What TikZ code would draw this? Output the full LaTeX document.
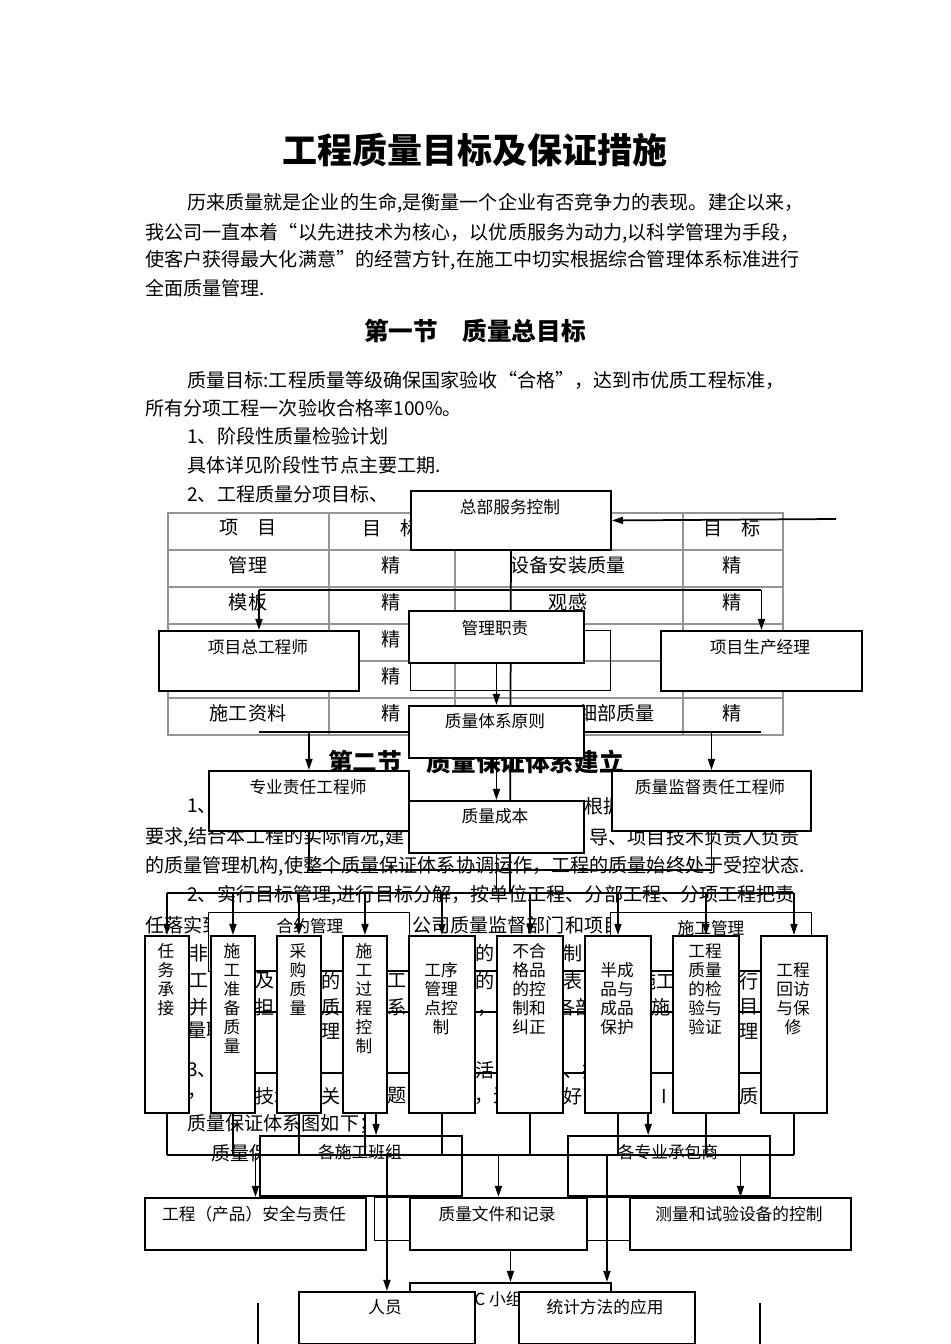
\documentclass[tikz,border=0pt]{standalone}
\usepackage{fontspec}
\setmainfont{Noto Sans CJK SC}
\usetikzlibrary{arrows.meta,positioning}
\newcommand{\pxu}{0.0221cm}
\tikzset{
  ptxt/.style={font=\fontsize{12}{14}\selectfont,inner sep=0pt,anchor=west},
  ptxtr/.style={font=\fontsize{12}{14}\selectfont,inner sep=0pt,anchor=east},
  frag/.style={font=\fontsize{12}{14}\selectfont,inner sep=0pt},
  sect/.style={font=\fontsize{15.5}{18}\selectfont\bfseries,inner sep=0pt},
  cell/.style={font=\fontsize{12}{14}\selectfont,inner sep=0pt},
  tline/.style={draw=black!42,line width=1.2pt},
  bx/.style 2 args={draw,fill=white,line width=1.2pt,anchor=north west,inner sep=0pt,
    minimum width=#1*\pxu,minimum height=#2*\pxu},
  fbx/.style 2 args={draw,line width=0.8pt,anchor=north west,inner sep=0pt,
    minimum width=#1*\pxu,minimum height=#2*\pxu},
  wbx/.style 2 args={fbx={#1}{#2},fill=white},
  btxt/.style={font=\fontsize{10.5}{12.5}\selectfont,inner sep=0pt},
  vtxt/.style={font=\fontsize{10.5}{12}\selectfont,inner sep=0pt,align=center,anchor=north},
  wire/.style={line width=1.1pt},
  thin/.style={line width=0.8pt},
  arr/.style={line width=1.1pt,-{Triangle[length=7pt,width=4.4pt]}},
}
\begin{document}
\begin{tikzpicture}[x=\pxu,y=-\pxu]
  \useasboundingbox[fill=white] (0,0) rectangle (950,1344);

  % page text
  \node[font=\fontsize{22}{26}\selectfont\bfseries,inner sep=0pt] (title) at (475,150) {工程质量目标及保证措施};
  \node[ptxt] (p1) at (187,203) {历来质量就是企业的生命,是衡量一个企业有否竞争力的表现。建企以来，};
  \node[ptxt] (p2) at (145,233) {我公司一直本着“以先进技术为核心，以优质服务为动力,以科学管理为手段，};
  \node[ptxt] (p3) at (145,260) {使客户获得最大化满意”的经营方针,在施工中切实根据综合管理体系标准进行};
  \node[ptxt] (p4) at (145,288) {全面质量管理.};
  \node[sect] (s1) at (475,331) {第一节\quad 质量总目标};
  \node[ptxt] (q1) at (187,380) {质量目标:工程质量等级确保国家验收“合格”，达到市优质工程标准，};
  \node[ptxt] (q2) at (145,408) {所有分项工程一次验收合格率100\%。};
  \node[ptxt] (q3) at (187,436) {1、阶段性质量检验计划};
  \node[ptxt] (q4) at (187,465) {具体详见阶段性节点主要工期.};
  \node[ptxt] (q5) at (187,494) {2、工程质量分项目标、};

  % table
  \draw[tline] (168,513) rectangle (783,735);
  \draw[tline] (168,550) -- (783,550);
  \draw[tline] (168,587) -- (783,587);
  \draw[tline] (168,624) -- (783,624);
  \draw[tline] (168,661) -- (783,661);
  \draw[tline] (168,698) -- (783,698);
  \draw[tline] (329,513) -- (329,735);
  \draw[tline] (455,513) -- (455,735);
  \draw[tline] (683,513) -- (683,735);
  \node[cell] (c11) at (248,528) {项\quad 目};
  \node[cell] (c12) at (391,528) {目\quad 标};
  \node[cell] (c14) at (732,528) {目\quad 标};
  \node[cell] (c21) at (248,565) {管理};
  \node[cell] (c22) at (391,565) {精};
  \node[cell] (c23) at (568,565) {设备安装质量};
  \node[cell] (c24) at (732,565) {精};
  \node[cell] (c31) at (248,602) {模板};
  \node[cell] (c32) at (391,602) {精};
  \node[cell] (c33) at (568,602) {观感};
  \node[cell] (c34) at (732,602) {精};
  \node[cell] (c42) at (391,639) {精};
  \node[cell] (c52) at (391,676) {精};
  \node[cell] (c61) at (248,713) {施工资料};
  \node[cell] (c62) at (391,713) {精};
  \node[cell,anchor=east] (c63) at (655,713) {细部质量};
  \node[cell] (c64) at (732,713) {精};

  % section two
  \node[sect] (s2) at (476,762) {第二节\quad 质量保证体系建立};
  \node[ptxt] (r1) at (187,806) {1、};
  \node[ptxt] (r1b) at (584,806) {根据};
  \node[ptxt] (r2) at (145,837) {要求,结合本工程的实际情况,建};
  \node[ptxtr] (r2b) at (800,837) {导、项目技术负责人负责};
  \node[ptxt] (r3) at (145,866) {的质量管理机构,使整个质量保证体系协调运作，工程的质量始终处于受控状态.};
  \node[ptxt] (r4) at (187,895) {2、实行目标管理,进行目标分解，按单位工程、分部工程、分项工程把责};
  \node[ptxt] (r5) at (145,925) {任落实到};
  \node[ptxt] (r5b) at (412,925) {公司质量监督部门和项目};
  \node[ptxt] (r6) at (187,1124) {质量保证体系图如下；};
  \node[ptxt] (r7) at (211,1153) {质量保证};

  % text showing between the work items
  \node[frag] (f11) at (199,953) {非};
  \node[frag] (f15) at (485,953) {的};
  \node[frag] (f16) at (573,953) {制};
  \node[frag] (f21) at (199,981) {工};
  \node[frag] (f22) at (265,981) {及};
  \node[frag] (f23) at (331,981) {的};
  \node[frag] (f24) at (397,981) {工};
  \node[frag] (f25) at (485,981) {的};
  \node[frag] (f26) at (573,981) {表};
  \node[frag,anchor=east] (f27) at (676,981) {施工};
  \node[frag] (f28) at (749,981) {行};
  \node[frag] (f31) at (199,1007) {并};
  \node[frag] (f32) at (265,1007) {担};
  \node[frag] (f33) at (331,1007) {质};
  \node[frag] (f34) at (397,1007) {系};
  \node[frag,anchor=east] (f35) at (497,1007) {度，};
  \node[frag,anchor=west] (f36) at (556,1007) {各部};
  \node[frag] (f37) at (661,1007) {施};
  \node[frag] (f38) at (749,1007) {目};
  \node[frag,anchor=west] (f41) at (187,1031) {量职};
  \node[frag,anchor=east] (f43) at (341,1031) {管理};
  \node[frag] (f48) at (749,1031) {理};
  \node[frag,anchor=west] (f51) at (187,1070) {3、};
  \node[frag] (f55) at (485,1070) {活};
  \node[frag,anchor=west] (f56) at (563,1070) {、技};
  \node[frag,anchor=west] (f61) at (187,1096) {，};
  \node[frag,anchor=west] (f62) at (255,1096) {技术};
  \node[frag] (f63) at (331,1096) {关};
  \node[frag] (f64) at (397,1096) {题};
  \node[frag,anchor=west] (f65) at (474,1096) {，无};
  \node[frag] (f66) at (573,1096) {好};
  \node[frag] (f67) at (664,1096) {I};
  \node[frag] (f68) at (749,1096) {质};

  % frames
  \node[fbx={200}{60}] (fxm) at (410,630) {};
  \node[wbx={201}{59}] (fhy) at (208,912) {};
  \node[wbx={201}{59}] (fsg) at (610,912) {};
  \node[btxt] (fhyt) at (310,926) {合约管理};
  \node[btxt] (fsgt) at (711,928) {施工管理};
  \node[fbx={266}{43}] (fwj) at (374,1197) {};
  \draw[thin] (254,971) -- (760,971);
  \draw[thin] (254,1012) -- (760,1012);
  \draw[thin] (254,1073) -- (760,1073);

  % junctions
  \coordinate (hqin) at (836,519);
  \coordinate (j1) at (510,590);
  \coordinate (j2) at (510,732);
  \coordinate (j3) at (510,870);
  \coordinate (j4) at (510,893);
  \coordinate (j5) at (510,1155);

  % management boxes
  \node[bx={200}{59}] (hq) at (410,490) {};
  \node[bx={200}{60}] (zgcs) at (158,630) {};
  \node[bx={201}{60}] (scjl) at (660,630) {};
  \node[bx={200}{60}] (zrgc) at (208,770) {};
  \node[bx={199}{60}] (zljd) at (611,770) {};

  \draw[wire] (hq.south) -- (j4);
  \draw[arr] (hqin) -- (hq.east);
  \draw[wire] (zgcs.north |- j1) -- (scjl.north |- j1);
  \draw[arr] (zgcs.north |- j1) -- (zgcs.north);
  \draw[arr] (scjl.north |- j1) -- (scjl.north);
  \draw[wire] (zgcs.north |- j2) -- (scjl.north |- j2);
  \draw[arr] (zrgc.north |- j2) -- (zrgc.north);
  \draw[arr] (zljd.north |- j2) -- (zljd.north);
  \draw[wire] (zrgc.south) |- (j3) -| (zljd.south);

  \node[bx={175}{52}] (glzz) at (408,610) {};
  \node[bx={175}{52}] (zltx) at (408,705) {};
  \node[bx={175}{52}] (zlcb) at (408,800) {};
  \draw[arr] (glzz.south) -- (zltx.north);
  \draw[arr] (zltx.south) -- (zlcb.north);
  \draw[wire] (zlcb.south) -- (zlcb.south |- j4);
  \node[btxt] (hqt) at (510,507) {总部服务控制};
  \node[btxt] (zgcst) at (258,647) {项目总工程师};
  \node[btxt] (glzzt) at (495,628) {管理职责};
  \node[btxt] (scjlt) at (760,647) {项目生产经理};
  \node[btxt] (zltxt) at (495,721) {质量体系原则};
  \node[btxt] (zrgct) at (308,787) {专业责任工程师};
  \node[btxt] (zlcbt) at (495,816) {质量成本};
  \node[btxt] (zljdt) at (710,787) {质量监督责任工程师};

  % work items
  \node[bx={44}{177}] (v1) at (144,935) {};
  \node[bx={44}{177}] (v2) at (210,935) {};
  \node[bx={44}{177}] (v3) at (276,935) {};
  \node[bx={44}{177}] (v4) at (342,935) {};
  \node[bx={66}{177}] (v5) at (408,935) {};
  \node[bx={66}{177}] (v6) at (496,935) {};
  \node[bx={66}{177}] (v7) at (584,935) {};
  \node[bx={66}{177}] (v8) at (672,935) {};
  \node[bx={66}{177}] (v9) at (760,935) {};
  \node[vtxt] (v1t) at (166,943) {任\\务\\承\\接};
  \node[vtxt] (v2t) at (232,943) {施\\工\\准\\备\\质\\量};
  \node[vtxt] (v3t) at (298,943) {采\\购\\质\\量};
  \node[vtxt] (v4t) at (364,943) {施\\工\\过\\程\\控\\制};
  \node[vtxt] (v5t) at (441,962) {工序\\管理\\点控\\制};
  \node[vtxt] (v6t) at (529,943) {不合\\格品\\的控\\制和\\纠正};
  \node[vtxt] (v7t) at (617,962) {半成\\品与\\成品\\保护};
  \node[vtxt] (v8t) at (705,943) {工程\\质量\\的检\\验与\\验证};
  \node[vtxt] (v9t) at (793,962) {工程\\回访\\与保\\修};

  \draw[wire] (v1.north |- j4) -- (v9.north |- j4);
  \draw[arr] (v1.north |- j4) -- (v1.north);
  \draw[arr] (v2.north |- j4) -- (v2.north);
  \draw[arr] (v3.north |- j4) -- (v3.north);
  \draw[arr] (v4.north |- j4) -- (v4.north);
  \draw[arr] (v5.north |- j4) -- (v5.north);
  \draw[arr] (v6.north |- j4) -- (v6.north);
  \draw[arr] (v7.north |- j4) -- (v7.north);
  \draw[arr] (v8.north |- j4) -- (v8.north);
  \draw[arr] (v9.north |- j4) -- (v9.north);

  % teams and results
  \node[bx={202}{60}] (bz) at (259,1135) {};
  \node[bx={202}{60}] (cbs) at (567,1135) {};
  \node[btxt] (bzt) at (360,1152) {各施工班组};
  \node[btxt] (cbst) at (668,1152) {各专业承包商};
  \draw[arr] ([xshift=7pt]v4.south) -- ([xshift=7pt]v4.south |- bz.north);
  \draw[arr] ([xshift=19pt]v7.south) -- ([xshift=19pt]v7.south |- cbs.north);
  \draw[wire] (v1.south) -- (v1.south |- j5);
  \draw[wire] (v2.south) -- (v2.south |- j5);
  \draw[wire] (v3.south) -- (v3.south |- j5);
  \draw[wire] (v4.south) -- (v4.south |- j5);
  \draw[wire] (v5.south) -- (v5.south |- j5);
  \draw[wire] (v6.south) -- (v6.south |- j5);
  \draw[wire] (v7.south) -- (v7.south |- j5);
  \draw[wire] (v8.south) -- (v8.south |- j5);
  \draw[wire] (v9.south) -- (v9.south |- j5);
  \draw[wire] (v1.south |- j5) -- (v9.south |- j5);

  \node[bx={201}{62}] (qc) at (409,1282) {};
  \node[btxt,anchor=west] (qct) at (462,1300) {QC 小组};
  \node[bx={221}{52}] (aqzr) at (144,1197) {};
  \node[bx={177}{52}] (zlwj) at (409,1197) {};
  \node[bx={221}{52}] (clsy) at (629,1197) {};
  \node[bx={176}{52}] (ry) at (298,1291) {};
  \node[bx={176}{52}] (tjff) at (518,1291) {};
  \node[btxt] (aqzrt) at (254,1214) {工程（产品）安全与责任};
  \node[btxt] (zlwjt) at (497,1214) {质量文件和记录};
  \node[btxt] (clsyt) at (739,1214) {测量和试验设备的控制};
  \node[btxt] (ryt) at (385,1307) {人员};
  \node[btxt] (tjfft) at (605,1307) {统计方法的应用};

  \draw[arr] (aqzr.north |- j5) -- (aqzr.north);
  \draw[arr] (zlwj.north |- j5) -- (zlwj.north);
  \draw[arr] (clsy.north |- j5) -- (clsy.north);
  \draw[arr] (ry.north |- j5) -- (ry.north);
  \draw[arr] (tjff.north |- j5) -- (tjff.north |- qc.north);
  \draw[arr] (qc.north |- zlwj.south) -- (qc.north);
  \coordinate (ml) at (258,1303);
  \coordinate (mr) at (760,1303);
  \draw[wire] (ml) -- ++(0,41);
  \draw[wire] (mr) -- ++(0,41);
\end{tikzpicture}
\end{document}
